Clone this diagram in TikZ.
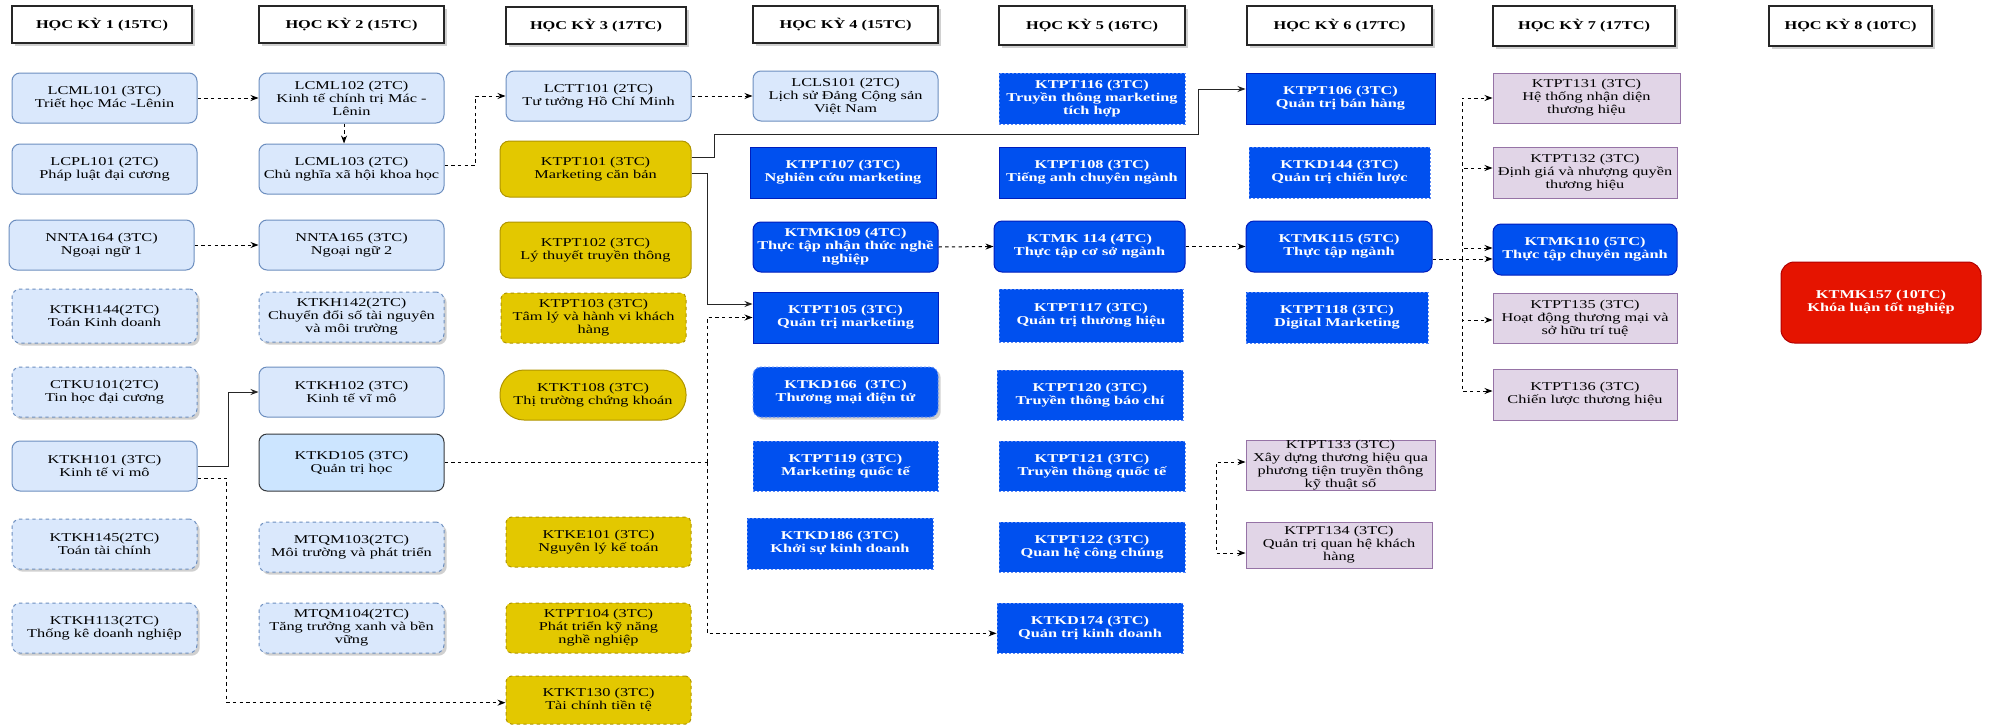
\documentclass[tikz,border=0pt]{standalone}
\usepackage{fontspec}
\setmainfont{Liberation Serif}[FakeStretch=1.36]
\usetikzlibrary{arrows.meta,shadows}
\definecolor{lbfill}{HTML}{DAE8FC}
\definecolor{lbdraw}{HTML}{6C8EBF}
\definecolor{qtfill}{HTML}{CCE5FF}
\definecolor{qtdraw}{HTML}{36393D}
\definecolor{yfill}{HTML}{E3C800}
\definecolor{ydraw}{HTML}{B09500}
\definecolor{bfill}{HTML}{0050EF}
\definecolor{bdraw}{HTML}{001DBC}
\definecolor{bdash}{HTML}{5F8BF5}
\definecolor{pfill}{HTML}{E1D5E7}
\definecolor{pdraw}{HTML}{9673A6}
\definecolor{rfill}{HTML}{E51400}
\definecolor{rdraw}{HTML}{B20000}
\newcommand\coursefont{\fontsize{9}{9.75}\selectfont}
\newcommand\course[7]{\node[#1, minimum width={(#5-#3)*0.75pt}, minimum height={(#6-#4)*0.75pt}] (#2) at ({(#3+#5)/2},{(#4+#6)/2}) {#7};}
\tikzset{
  base/.style={draw, align=center, inner sep=0pt, line width=0.75pt, font=\coursefont},
  dsh/.style={dash pattern=on 2.5pt off 2.5pt},
  shd/.style={drop shadow={shadow xshift=2pt, shadow yshift=-2pt, opacity=0.3, fill=black!60}},
  hdr/.style={base, fill=white, draw=black!85, line width=1pt, font=\coursefont\bfseries, shd},
  lb/.style={base, fill=lbfill, draw=lbdraw, rounded corners=6pt},
  lbd/.style={lb, dsh, shd},
  qt/.style={base, fill=qtfill, draw=qtdraw, rounded corners=6pt},
  ys/.style={base, fill=yfill, draw=ydraw, rounded corners=7pt},
  ysd/.style={base, fill=yfill, draw=ydraw, rounded corners=4pt, dsh},
  ypill/.style={base, fill=yfill, draw=ydraw, rounded corners=18pt},
  bs/.style={base, fill=bfill, draw=bdraw, text=white, font=\coursefont\bfseries},
  bsd/.style={bs, draw=bdash, dash pattern=on 1.5pt off 1.5pt},
  bsr/.style={bs, rounded corners=6pt},
  bsrd/.style={bsr, draw=bdash, dash pattern=on 1.5pt off 1.5pt, shd},
  ps/.style={base, fill=pfill, draw=pdraw},
  rs/.style={base, fill=rfill, draw=rdraw, text=white, font=\coursefont\bfseries, rounded corners=10pt},
  conn/.style={draw=black, line width=0.75pt, dsh, -{Stealth[length=6pt,width=4.5pt]}},
  sconn/.style={draw=black!85, line width=0.75pt, -{Stealth[length=6pt,width=4.5pt]}},
  plain/.style={draw=black, line width=0.75pt, dsh}
}
\begin{document}
\begin{tikzpicture}[x=0.75pt, y=-0.75pt]
\fill[white] (0,0) rectangle (1997,725);
\useasboundingbox (0,0) rectangle (1997,725);
% headers
\course{hdr}{h1}{12}{6}{192}{43}{HỌC KỲ 1 (15TC)}
\course{hdr}{h2}{259}{6}{444}{43}{HỌC KỲ 2 (15TC)}
\course{hdr}{h3}{506}{7}{686}{44}{HỌC KỲ 3 (17TC)}
\course{hdr}{h4}{753}{6}{938}{43}{HỌC KỲ 4 (15TC)}
\course{hdr}{h5}{999}{6}{1185}{45}{HỌC KỲ 5 (16TC)}
\course{hdr}{h6}{1247}{6}{1432}{45}{HỌC KỲ 6 (17TC)}
\course{hdr}{h7}{1493}{6}{1675}{46}{HỌC KỲ 7 (17TC)}
\course{hdr}{h8}{1769}{6}{1932}{46}{HỌC KỲ 8 (10TC)}
% column 1
\course{lb}{LCML101}{12}{73}{197}{123}{LCML101 (3TC)\\Triết học Mác -Lênin}
\course{lb}{LCPL101}{12}{144}{197}{194}{LCPL101 (2TC)\\Pháp luật đại cương}
\course{lb}{NNTA164}{9}{220}{194}{270}{NNTA164 (3TC)\\Ngoại ngữ 1}
\course{lbd}{KTKH144}{12}{289}{197}{343}{KTKH144(2TC)\\Toán Kinh doanh}
\course{lbd}{CTKU101}{12}{367}{197}{417}{CTKU101(2TC)\\Tin học đại cương}
\course{lb}{KTKH101}{12}{441}{197}{491}{KTKH101 (3TC)\\Kinh tế vi mô}
\course{lbd}{KTKH145}{12}{519}{197}{569}{KTKH145(2TC)\\Toán tài chính}
\course{lbd}{KTKH113}{12}{603}{197}{653}{KTKH113(2TC)\\Thống kê doanh nghiệp}
% column 2
\course{lb}{LCML102}{259}{73}{444}{123}{LCML102 (2TC)\\Kinh tế chính trị Mác -\\Lênin}
\course{lb}{LCML103}{259}{144}{444}{194}{LCML103 (2TC)\\Chủ nghĩa xã hội khoa học}
\course{lb}{NNTA165}{259}{220}{444}{270}{NNTA165 (3TC)\\Ngoại ngữ 2}
\course{lbd}{KTKH142}{259}{292}{444}{342}{KTKH142(2TC)\\Chuyển đổi số tài nguyên\\và môi trường}
\course{lb}{KTKH102}{259}{367}{444}{417}{KTKH102 (3TC)\\Kinh tế vĩ mô}
\course{qt}{KTKD105}{259}{434}{444}{491}{KTKD105 (3TC)\\Quản trị học}
\course{lbd}{MTQM103}{259}{522}{444}{572}{MTQM103(2TC)\\Môi trường và phát triển}
\course{lbd}{MTQM104}{259}{603}{444}{653}{MTQM104(2TC)\\Tăng trưởng xanh và bền\\vững}
% column 3
\course{lb}{LCTT101}{506}{71}{691}{121}{LCTT101 (2TC)\\Tư tưởng Hồ Chí Minh}
\course{ys}{KTPT101}{500}{141}{691}{197}{KTPT101 (3TC)\\Marketing căn bản}
\course{ys}{KTPT102}{500}{222}{691}{278}{KTPT102 (3TC)\\Lý thuyết truyền thông}
\course{ysd}{KTPT103}{501}{293}{686}{343}{KTPT103 (3TC)\\Tâm lý và hành vi khách\\hàng}
\course{ypill}{KTKT108}{500}{370}{686}{420}{KTKT108 (3TC)\\Thị trường chứng khoán}
\course{ysd}{KTKE101}{506}{517}{691}{567}{KTKE101 (3TC)\\Nguyên lý kế toán}
\course{ysd}{KTPT104}{506}{603}{691}{653}{KTPT104 (3TC)\\Phát triển kỹ năng\\nghề nghiệp}
\course{ysd}{KTKT130}{506}{676}{691}{724}{KTKT130 (3TC)\\Tài chính tiền tệ}
% column 4
\course{lb}{LCLS101}{753}{71}{938}{121}{LCLS101 (2TC)\\Lịch sử Đảng Cộng sản\\Việt Nam}
\course{bs}{KTPT107}{750}{147}{936}{198}{KTPT107 (3TC)\\Nghiên cứu marketing}
\course{bsr}{KTMK109}{753}{222}{938}{272}{KTMK109 (4TC)\\Thực tập nhận thức nghề\\nghiệp}
\course{bs}{KTPT105}{753}{292}{938}{343}{KTPT105 (3TC)\\Quản trị marketing}
\course{bsrd}{KTKD166}{753}{367}{938}{417}{KTKD166~~(3TC)\\Thương mại điện tử}
\course{bsd}{KTPT119}{753}{441}{938}{491}{KTPT119 (3TC)\\Marketing quốc tế}
\course{bsd}{KTKD186}{747}{518}{933}{569}{KTKD186 (3TC)\\Khởi sự kinh doanh}
% column 5
\course{bsd}{KTPT116}{999}{73}{1185}{124}{KTPT116 (3TC)\\Truyền thông marketing\\tích hợp}
\course{bs}{KTPT108}{999}{147}{1185}{198}{KTPT108 (3TC)\\Tiếng anh chuyên ngành}
\course{bsr}{KTMK114}{994}{221}{1185}{272}{KTMK 114 (4TC)\\Thực tập cơ sở ngành}
\course{bsd}{KTPT117}{999}{289}{1183}{342}{KTPT117 (3TC)\\Quản trị thương hiệu}
\course{bsd}{KTPT120}{997}{370}{1183}{420}{KTPT120 (3TC)\\Truyền thông báo chí}
\course{bsd}{KTPT121}{999}{441}{1185}{491}{KTPT121 (3TC)\\Truyền thông quốc tế}
\course{bsd}{KTPT122}{999}{522}{1185}{572}{KTPT122 (3TC)\\Quan hệ công chúng}
\course{bsd}{KTKD174}{997}{603}{1183}{653}{KTKD174 (3TC)\\Quản trị kinh doanh}
% column 6
\course{bs}{KTPT106}{1246}{73}{1435}{124}{KTPT106 (3TC)\\Quản trị bán hàng}
\course{bsd}{KTKD144}{1249}{147}{1430}{198}{KTKD144 (3TC)\\Quản trị chiến lược}
\course{bsr}{KTMK115}{1246}{221}{1432}{272}{KTMK115 (5TC)\\Thực tập ngành}
\course{bsd}{KTPT118}{1246}{292}{1428}{343}{KTPT118 (3TC)\\Digital Marketing}
\course{ps}{KTPT133}{1246}{440}{1435}{490}{KTPT133 (3TC)\\Xây dựng thương hiệu qua\\phương tiện truyền thông\\kỹ thuật số}
\course{ps}{KTPT134}{1246}{522}{1432}{568}{KTPT134 (3TC)\\Quản trị quan hệ khách\\hàng}
% column 7
\course{ps}{KTPT131}{1493}{73}{1680}{123}{KTPT131 (3TC)\\Hệ thống nhận diện\\thương hiệu}
\course{ps}{KTPT132}{1493}{147}{1677}{198}{KTPT132 (3TC)\\Định giá và nhượng quyền\\thương hiệu}
\course{bsr}{KTMK110}{1493}{224}{1677}{275}{KTMK110 (5TC)\\Thực tập chuyên ngành}
\course{ps}{KTPT135}{1493}{293}{1677}{343}{KTPT135 (3TC)\\Hoạt động thương mại và\\sở hữu trí tuệ}
\course{ps}{KTPT136}{1493}{369}{1677}{420}{KTPT136 (3TC)\\Chiến lược thương hiệu}
% column 8
\course{rs}{KTMK157}{1781}{262}{1981}{343}{KTMK157 (10TC)\\Khóa luận tốt nghiệp}
% connectors
\draw[conn] (LCML101.east) -- (LCML102.west);
\draw[conn] ([xshift=-5.6pt]LCML102.south) -- ([xshift=-5.6pt]LCML103.north);
\draw[conn] ([yshift=3pt]LCML103.east) -- ++(31,0) |- (LCTT101.west);
\draw[conn] (NNTA164.east) -- (NNTA165.west);
\draw[sconn] (KTKH101.east) -- ++(31,0) |- (KTKH102.west);
\draw[conn] ([yshift=-9pt]KTKH101.east) -- ++(29,0) |- ([yshift=-2pt]KTKT130.west);
\draw[conn] (LCTT101.east) -- (LCLS101.west);
\draw[sconn] ([yshift=9pt]KTPT101.east) -| (714,134) -| (1198,89) -- (KTPT106.west |- 0,89);
\draw[sconn] ([yshift=-3pt]KTPT101.east) -| (707,304) -- (KTPT105.west |- 0,304);
\coordinate (j1) at (707,462.5);
\draw[plain] (KTKD105.east) -- (j1);
\draw[conn] (j1) |- (KTPT105.west);
\draw[conn] (j1) |- ([yshift=-4pt]KTKD174.west);
\draw[conn] (KTMK109.east) -- (KTMK114.west);
\draw[conn] (KTMK114.east) -- (KTMK115.west);
\coordinate (j2) at (1462,259);
\draw[conn] (KTMK115.east |- 0,259) -- (KTMK110.west |- 0,259);
\draw[conn] (j2) |- (KTPT131.west);
\draw[conn] (j2) |- (KTPT132.west |- 0,168);
\draw[conn] (j2) |- (KTMK110.west |- 0,248);
\draw[conn] (j2) |- (KTPT135.west |- 0,320);
\draw[conn] (j2) |- (KTPT136.west |- 0,391);
\coordinate (j3) at (1216,507);
\draw[conn] (j3) |- (KTPT133.west |- 0,462);
\draw[conn] (j3) |- (KTPT134.west |- 0,553);
\end{tikzpicture}
\end{document}
